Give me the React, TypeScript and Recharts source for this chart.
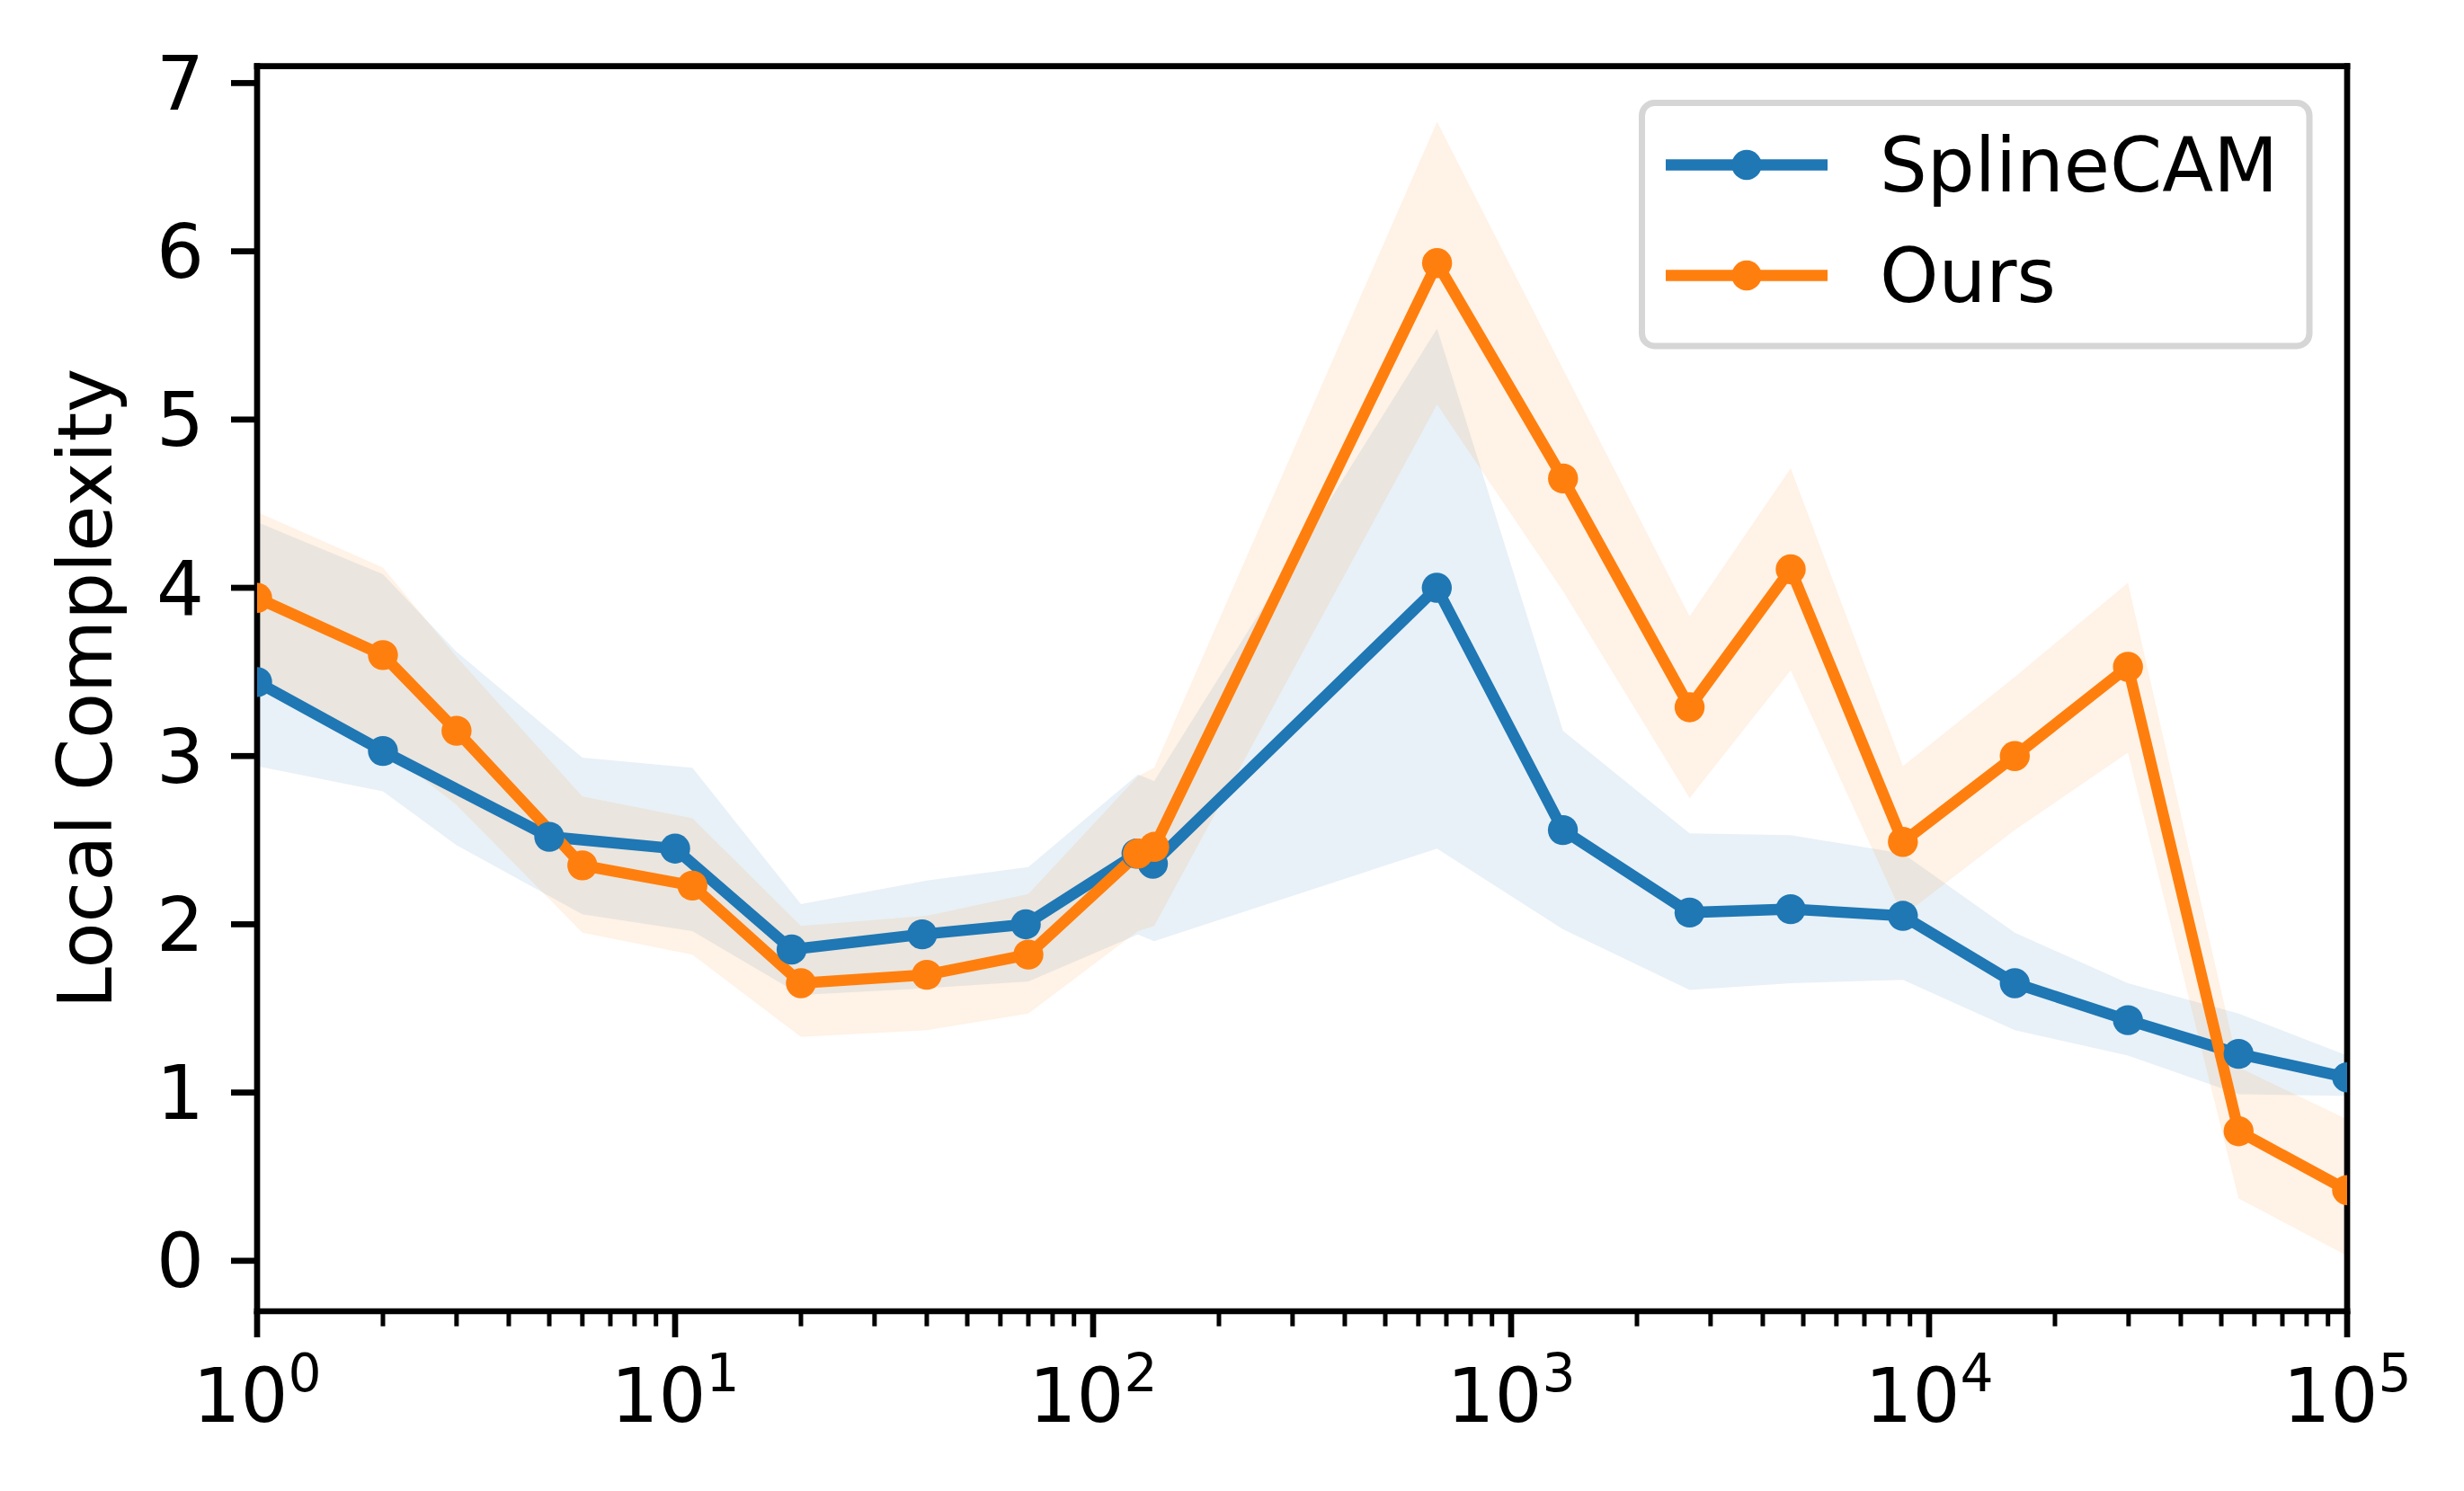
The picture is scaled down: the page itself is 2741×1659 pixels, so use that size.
import React from "react";
import { ComposedChart, Line, Area, XAxis, YAxis, Legend } from "recharts";

// x grid shared by both bands and the "Ours" curve
const stepX = [1, 2, 3, 6, 11, 20, 40, 70, 128, 140, 665, 1331, 2673, 4665, 8655, 16030, 29900, 55000, 100000];
// SplineCAM curve sits one step to the left of its band
const splineX = [1, 2, 5, 10, 19, 39, 69, 127, 139, 664, 1330, 2672, 4664, 8654, 16029, 29899, 54999, 99999];

const splineMean = [3.44, 3.03, 2.52, 2.45, 1.85, 1.94, 2.0, 2.42, 2.36, 4.0, 2.56, 2.07, 2.09, 2.05, 1.65, 1.43, 1.23, 1.09];
const splineLow = [2.94, 2.79, 2.47, 2.06, 1.96, 1.58, 1.62, 1.66, 1.94, 1.9, 2.45, 1.97, 1.61, 1.65, 1.67, 1.37, 1.22, 0.99, 0.98];
const splineHigh = [4.39, 4.08, 3.62, 2.99, 2.93, 2.12, 2.26, 2.34, 2.89, 2.85, 5.54, 3.15, 2.54, 2.53, 2.42, 1.95, 1.65, 1.47, 1.22];

const oursMean = [3.94, 3.6, 3.15, 2.35, 2.23, 1.65, 1.7, 1.82, 2.42, 2.46, 5.93, 4.65, 3.29, 4.11, 2.49, 3.0, 3.53, 0.77, 0.42];
const oursLow = [3.43, 3.05, 2.71, 1.95, 1.82, 1.33, 1.37, 1.47, 1.96, 1.99, 5.09, 3.98, 2.75, 3.51, 2.05, 2.56, 3.02, 0.37, 0.03];
const oursHigh = [4.45, 4.12, 3.59, 2.76, 2.63, 1.99, 2.05, 2.18, 2.88, 2.93, 6.77, 5.3, 3.83, 4.71, 2.94, 3.47, 4.03, 1.15, 0.84];

const yTicks = [0, 1, 2, 3, 4, 5, 6, 7];
const decades = [0, 1, 2, 3, 4, 5];

const series = [
  { name: "SplineCAM", color: "#1f77b4" },
  { name: "Ours", color: "#ff7f0e" },
];

const splineLine = splineX.map((x, i) => ({ x, y: splineMean[i] }));
const oursLine = stepX.map((x, i) => ({ x, y: oursMean[i] }));
const splineBand = stepX.map((x, i) => ({ x, band: [splineLow[i], splineHigh[i]] }));
const oursBand = stepX.map((x, i) => ({ x, band: [oursLow[i], oursHigh[i]] }));

const xTicks: number[] = [];
decades.forEach((d) => {
  xTicks.push(Math.pow(10, d));
  if (d < decades[decades.length - 1]) {
    for (let m = 2; m <= 9; m++) xTicks.push(m * Math.pow(10, d));
  }
});

const FONT = "DejaVu Sans";
const FS = 83.3;
const SPINE = { stroke: "#000", strokeWidth: 6.7, strokeLinecap: "square" as const };

function LogTick(props: any) {
  const { x, y, payload } = props;
  const e = Math.log10(payload.value);
  const major = Math.abs(e - Math.round(e)) < 1e-6;
  return (
    <g>
      <line
        x1={x}
        x2={x}
        y1={y}
        y2={y + (major ? 29 : 16.7)}
        stroke="#000"
        strokeWidth={major ? 6.7 : 5}
      />
      {major && (
        <text x={x} y={y + 123} textAnchor="middle" fontFamily={FONT} fontSize={FS} fill="#000">
          <tspan>10</tspan>
          <tspan dy={-34} fontSize={FS * 0.7}>
            {Math.round(e)}
          </tspan>
        </text>
      )}
    </g>
  );
}

function LegendBox() {
  const ox = 1800;
  const oy = 90;
  return (
    <svg width={800} height={320}>
      <g transform={`translate(${-ox}, ${-oy})`}>
        <rect x={1826.5} y={114.5} width={742.5} height={270.5} rx={14} fill="#fff" fillOpacity={0.8} stroke="#d6d6d6" strokeWidth={7} />
        {series.map((s, i) => {
          const cy = 183.5 + i * 123;
          return (
            <g key={s.name}>
              <line x1={1853} x2={2033} y1={cy} y2={cy} stroke={s.color} strokeWidth={12.5} />
              <circle cx={1943} cy={cy} r={16.7} fill={s.color} />
              <text x={2091} y={cy + 29.5} fontFamily={FONT} fontSize={FS} fill="#000">
                {s.name}
              </text>
            </g>
          );
        })}
      </g>
    </svg>
  );
}

export default function App() {
  return (
    <div style={{ position: "absolute", left: 0, top: 0, background: "#fff" }}>
      <ComposedChart width={2741} height={1659} margin={{ top: 72.7, right: 129, bottom: 0, left: 86 }}>
        <XAxis
          dataKey="x"
          type="number"
          scale="log"
          domain={[1, 100000]}
          allowDataOverflow
          ticks={xTicks}
          interval={0}
          tick={<LogTick />}
          tickLine={false}
          tickSize={0}
          tickMargin={0}
          height={200}
          axisLine={SPINE}
        />
        <XAxis
          xAxisId="top"
          orientation="top"
          type="number"
          scale="log"
          domain={[1, 100000]}
          allowDataOverflow
          height={1}
          tick={false}
          tickLine={false}
          axisLine={SPINE}
        />
        <YAxis
          type="number"
          domain={[-0.3, 7.1]}
          allowDataOverflow
          ticks={yTicks}
          interval={0}
          width={200}
          tickSize={29}
          tickMargin={30}
          tickLine={{ stroke: "#000", strokeWidth: 6.7 }}
          axisLine={SPINE}
          tick={{ fill: "#000", fontSize: FS, fontFamily: FONT }}
          label={(p: any) => (
            <text
              x={124}
              y={766}
              transform="rotate(-90, 124, 766)"
              textAnchor="middle"
              fontFamily={FONT}
              fontSize={FS}
              fill="#000"
            >
              Local Complexity
            </text>
          )}
        />
        <YAxis
          yAxisId="right"
          orientation="right"
          type="number"
          domain={[-0.3, 7.1]}
          allowDataOverflow
          width={1}
          tick={false}
          tickLine={false}
          axisLine={SPINE}
        />
        <Area
          data={splineBand}
          dataKey="band"
          type="linear"
          stroke="none"
          fill={series[0].color}
          fillOpacity={0.1}
          isAnimationActive={false}
          activeDot={false}
        />
        <Area
          data={oursBand}
          dataKey="band"
          type="linear"
          stroke="none"
          fill={series[1].color}
          fillOpacity={0.1}
          isAnimationActive={false}
          activeDot={false}
        />
        <Line
          data={splineLine}
          dataKey="y"
          name={series[0].name}
          type="linear"
          stroke={series[0].color}
          strokeWidth={12.5}
          dot={{ r: 16.7, fill: series[0].color, stroke: "none" }}
          activeDot={false}
          isAnimationActive={false}
        />
        <Line
          data={oursLine}
          dataKey="y"
          name={series[1].name}
          type="linear"
          stroke={series[1].color}
          strokeWidth={12.5}
          dot={{ r: 16.7, fill: series[1].color, stroke: "none" }}
          activeDot={false}
          isAnimationActive={false}
        />
        <Legend
          layout="horizontal"
          verticalAlign="middle"
          align="center"
          content={() => <LegendBox />}
          wrapperStyle={{ position: "absolute", left: 1800, top: 90, width: 800, height: 320 }}
        />
      </ComposedChart>
    </div>
  );
}
